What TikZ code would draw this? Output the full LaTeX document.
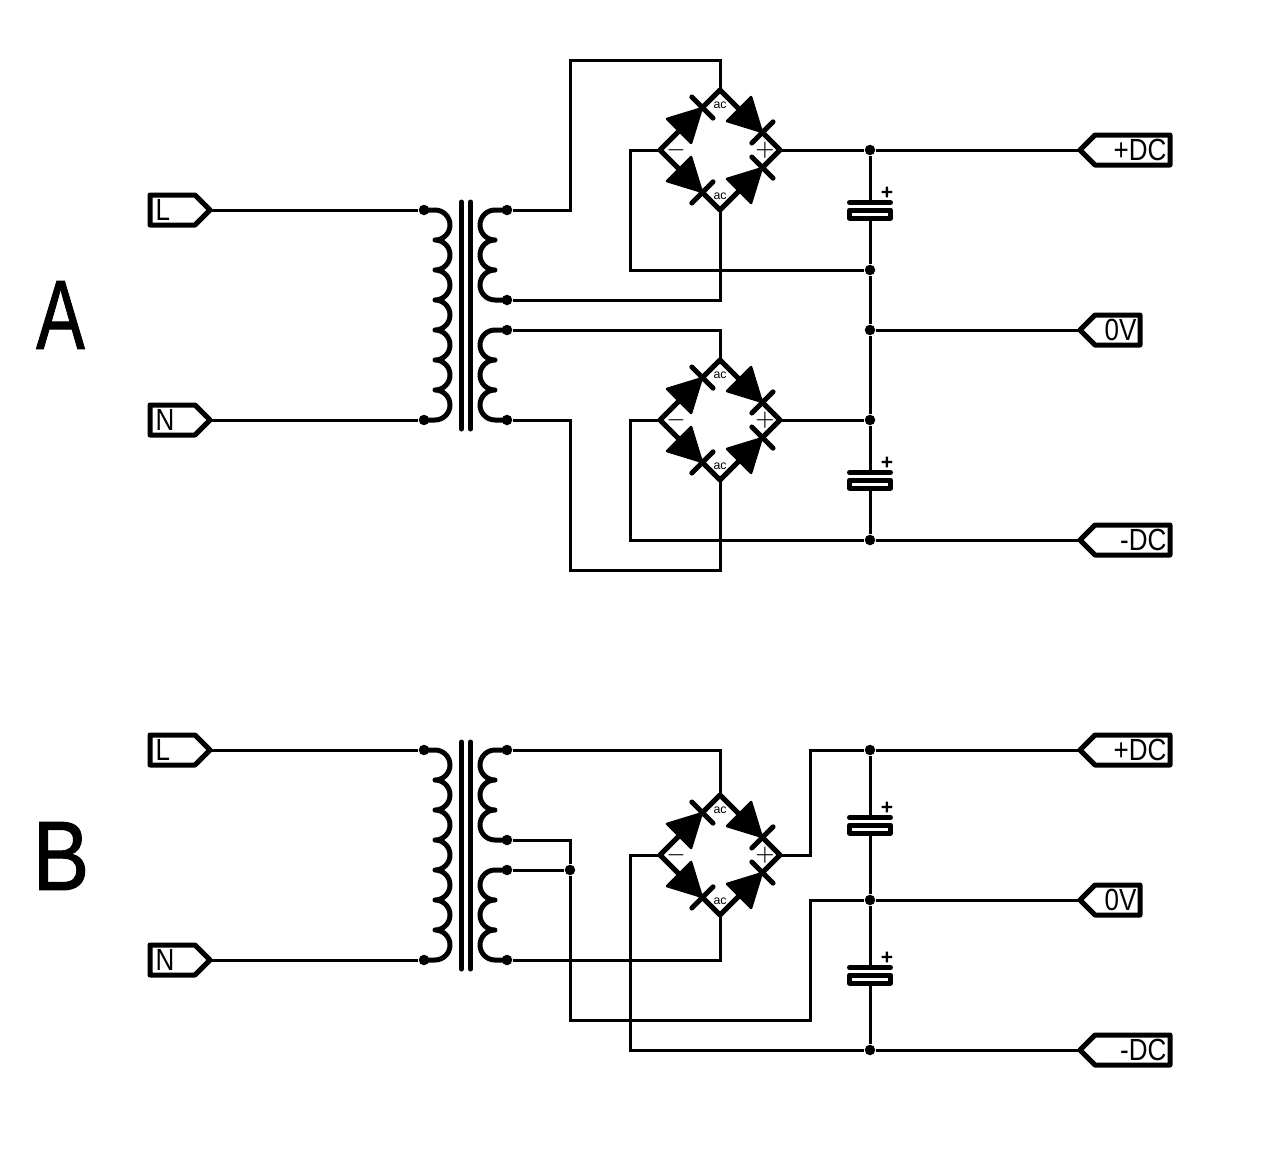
\documentclass[tikz,border=0pt]{standalone}
\usepackage{fontspec}
\setmainfont{Liberation Sans}
\newfontfamily\letterfont[FakeBold=1.2]{Liberation Sans}

\tikzset{
	wire/.style={line width=.03cm},
	thick wire/.style={line width=.05cm,line cap=round,line join=round},
	coil/.style={line width=.05cm,line join=round},
	dot/.style={circle,fill,inner sep=0,minimum size=.105cm},
	portlabel/.style={font=\fontsize{8.7}{9}\selectfont,inner sep=0,xscale=.85},
	bigletter/.style={font=\letterfont\fontsize{28}{30}\selectfont,inner sep=0},
	pics/diode/.style={code={
		\filldraw[line width=.025cm,line join=round] (.27,.17) -- (.59,0) -- (.27,-.17) -- cycle;
		\draw[thick wire] (.6,.15) -- (.6,-.15);
	}},
	pics/bridge/.style={code={
		\draw[thick wire] (-.6,0) -- (0,.6) -- (.6,0) -- (0,-.6) -- cycle;
		\pic[rotate=45] at (-.6,0) {diode};
		\pic[rotate=-45] at (-.6,0) {diode};
		\pic[rotate=-45] at (0,.6) {diode};
		\pic[rotate=45] at (0,-.6) {diode};
		\node[font=\fontsize{3.5}{4}\selectfont,inner sep=0] (-ac1) at (0,.45) {ac};
		\node[font=\fontsize{3.5}{4}\selectfont,inner sep=0] (-ac2) at (0,-.46) {ac};
		\node[font=\fontsize{6.4}{7}\selectfont,inner sep=0] (-minus) at (-.44,0) {$-$};
		\node[font=\fontsize{6.4}{7}\selectfont,inner sep=0] (-plus) at (.45,0) {$+$};
		\coordinate (-top) at (0,.6);
		\coordinate (-bot) at (0,-.6);
		\coordinate (-left) at (-.6,0);
		\coordinate (-right) at (.6,0);
	}},
	pics/cap/.style={code={
		\draw[thick wire] (-.205,.075) -- (.205,.075);
		\draw[thick wire] (-.205,0) rectangle (.205,-.08);
		\node[font=\bfseries\fontsize{6}{7}\selectfont,inner sep=0] (-pol) at (.17,.165) {+};
		\coordinate (-a) at (0,.075);
		\coordinate (-b) at (0,-.08);
	}},
	pics/inport/.style={code={
		\draw[thick wire] (0,.15) -- (.45,.15) -- (.6,0) -- (.45,-.15) -- (0,-.15) -- cycle;
		\node[portlabel,anchor=west] (-label) at (.05,0) {#1};
		\coordinate (-tip) at (.6,0);
	}},
	pics/outport/.style 2 args={code={
		\draw[thick wire] (0,0) -- (.15,.15) -- (#2,.15) -- (#2,-.15) -- (.15,-.15) -- cycle;
		\node[portlabel,anchor=east] (-label) at (#2-.03,0) {#1};
		\coordinate (-tip) at (0,0);
	}},
}

\begin{document}
\begin{tikzpicture}
	\useasboundingbox (0,0) rectangle (12.61,-11.71);

	% A
	\node[bigletter,xscale=.74] (lettera) at (.605,-3.15) {A};
	\pic (pl) at (1.5,-2.1) {inport=L};
	\pic (pn) at (1.5,-4.2) {inport=N};
	\node[dot] (pa1) at (4.24,-2.1) {};
	\node[dot] (pa2) at (4.24,-4.2) {};
	\node[dot] (sa1) at (5.07,-2.1) {};
	\node[dot] (sa2) at (5.07,-3) {};
	\node[dot] (sa3) at (5.07,-3.3) {};
	\node[dot] (sa4) at (5.07,-4.2) {};
	\draw[wire] (pl-tip) -- (pa1);
	\draw[wire] (pn-tip) -- (pa2);
	\draw[coil] (pa1.center) -- +(.11,0) arc (90:-90:.15) arc (90:-90:.15) arc (90:-90:.15) arc (90:-90:.15) arc (90:-90:.15) arc (90:-90:.15) arc (90:-90:.15) -- (pa2.center);
	\draw[coil] (sa1.center) -- +(-.12,0) arc (90:270:.15) arc (90:270:.15) arc (90:270:.15) -- (sa2.center);
	\draw[coil] (sa3.center) -- +(-.12,0) arc (90:270:.15) arc (90:270:.15) arc (90:270:.15) -- (sa4.center);
	\draw[thick wire] (4.615,-2.02) -- +(0,-2.27);
	\draw[thick wire] (4.705,-2.02) -- +(0,-2.27);

	\pic (bra) at (7.2,-1.5) {bridge};
	\pic (brb) at (7.2,-4.2) {bridge};
	\pic (ca) at (8.7,-2.1) {cap};
	\pic (cb) at (8.7,-4.8) {cap};
	\node[dot] (ja1) at (8.7,-1.5) {};
	\node[dot] (ja2) at (8.7,-2.7) {};
	\node[dot] (ja3) at (8.7,-3.3) {};
	\node[dot] (ja4) at (8.7,-4.2) {};
	\node[dot] (ja5) at (8.7,-5.4) {};
	\pic (pap) at (10.8,-1.5) {outport={+DC}{.9}};
	\pic (pa0) at (10.8,-3.3) {outport={0V}{.6}};
	\pic (pam) at (10.8,-5.4) {outport={-DC}{.9}};
	\coordinate (ka1) at (5.7,-.6);
	\coordinate (ka2) at (6.3,-2.7);
	\coordinate (ka3) at (5.7,-5.7);
	\coordinate (ka4) at (6.3,-5.4);
	\draw[wire] (sa1) -| (ka1) -| (bra-top);
	\draw[wire] (sa2) -| (bra-bot);
	\draw[wire] (bra-left) -| (ka2) -- (ja2);
	\draw[wire] (bra-right) -- (ja1);
	\draw[wire] (ja1) -- (pap-tip);
	\draw[wire] (ja1) -- (ca-a);
	\draw[wire] (ca-b) -- (ja2);
	\draw[wire] (ja2) -- (ja3);
	\draw[wire] (ja3) -- (ja4);
	\draw[wire] (ja3) -- (pa0-tip);
	\draw[wire] (ja4) -- (cb-a);
	\draw[wire] (cb-b) -- (ja5);
	\draw[wire] (sa3) -| (brb-top);
	\draw[wire] (sa4) -| (ka3) -| (brb-bot);
	\draw[wire] (brb-left) -| (ka4) -- (ja5);
	\draw[wire] (brb-right) -- (ja4);
	\draw[wire] (ja5) -- (pam-tip);

	% B
	\node[bigletter,xscale=.86] (letterb) at (.61,-8.56) {B};
	\pic (ql) at (1.5,-7.5) {inport=L};
	\pic (qn) at (1.5,-9.6) {inport=N};
	\node[dot] (pb1) at (4.24,-7.5) {};
	\node[dot] (pb2) at (4.24,-9.6) {};
	\node[dot] (sb1) at (5.07,-7.5) {};
	\node[dot] (sb2) at (5.07,-8.4) {};
	\node[dot] (sb3) at (5.07,-8.7) {};
	\node[dot] (sb4) at (5.07,-9.6) {};
	\draw[wire] (ql-tip) -- (pb1);
	\draw[wire] (qn-tip) -- (pb2);
	\draw[coil] (pb1.center) -- +(.11,0) arc (90:-90:.15) arc (90:-90:.15) arc (90:-90:.15) arc (90:-90:.15) arc (90:-90:.15) arc (90:-90:.15) arc (90:-90:.15) -- (pb2.center);
	\draw[coil] (sb1.center) -- +(-.12,0) arc (90:270:.15) arc (90:270:.15) arc (90:270:.15) -- (sb2.center);
	\draw[coil] (sb3.center) -- +(-.12,0) arc (90:270:.15) arc (90:270:.15) arc (90:270:.15) -- (sb4.center);
	\draw[thick wire] (4.615,-7.42) -- +(0,-2.27);
	\draw[thick wire] (4.705,-7.42) -- +(0,-2.27);

	\pic (brc) at (7.2,-8.55) {bridge};
	\pic (cc) at (8.7,-8.25) {cap};
	\pic (cd) at (8.7,-9.75) {cap};
	\node[dot] (jb1) at (5.7,-8.7) {};
	\node[dot] (jb2) at (8.7,-7.5) {};
	\node[dot] (jb3) at (8.7,-9) {};
	\node[dot] (jb4) at (8.7,-10.5) {};
	\pic (qp) at (10.8,-7.5) {outport={+DC}{.9}};
	\pic (q0) at (10.8,-9) {outport={0V}{.6}};
	\pic (qm) at (10.8,-10.5) {outport={-DC}{.9}};
	\coordinate (kb1) at (5.7,-8.4);
	\coordinate (kb2) at (8.1,-10.2);
	\coordinate (kb3) at (8.1,-9);
	\coordinate (kb4) at (6.3,-10.5);
	\coordinate (kb5) at (8.1,-8.55);
	\coordinate (kb6) at (8.1,-7.5);
	\draw[wire] (sb1) -| (brc-top);
	\draw[wire] (sb4) -| (brc-bot);
	\draw[wire] (sb3) -- (jb1);
	\draw[wire] (sb2) -- (kb1) -- (jb1);
	\draw[wire] (jb1) |- (kb2) -- (kb3) -- (jb3);
	\draw[wire] (brc-left) -| (kb4) -- (jb4);
	\draw[wire] (brc-right) -- (kb5) -- (kb6) -- (jb2);
	\draw[wire] (jb2) -- (qp-tip);
	\draw[wire] (jb3) -- (q0-tip);
	\draw[wire] (jb4) -- (qm-tip);
	\draw[wire] (jb2) -- (cc-a);
	\draw[wire] (cc-b) -- (jb3);
	\draw[wire] (jb3) -- (cd-a);
	\draw[wire] (cd-b) -- (jb4);
\end{tikzpicture}
\end{document}
